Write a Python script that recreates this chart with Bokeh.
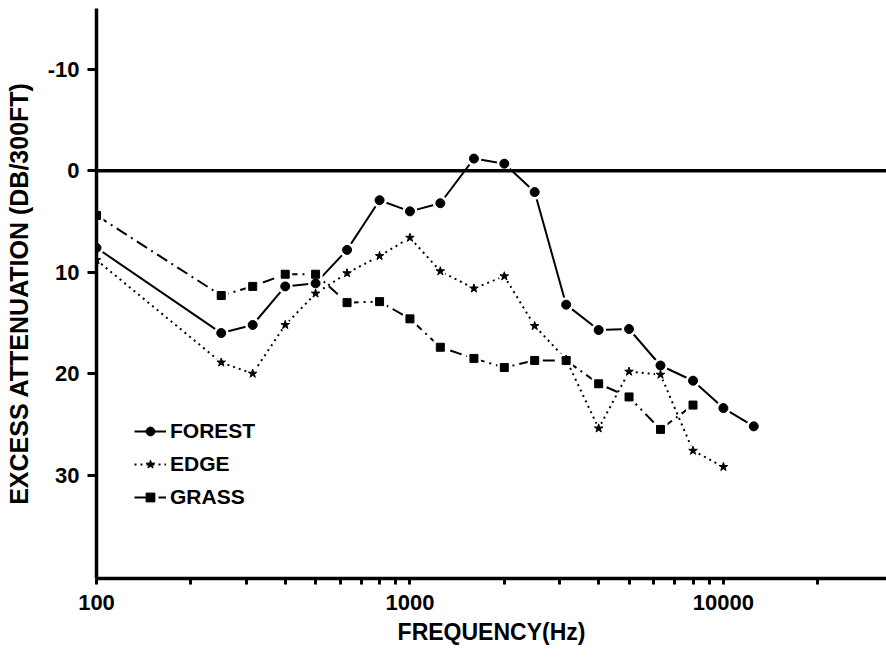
from bokeh.plotting import figure
from bokeh.models import Range1d, FixedTicker, Span, Legend, LegendItem, PrintfTickFormatter
from bokeh.embed import file_html
from bokeh.resources import INLINE

# ---- data ----
freq = [100, 250, 315, 400, 500, 630, 800, 1000, 1250, 1600, 2000,
        2500, 3150, 4000, 5000, 6300, 8000, 10000, 12500]
forest = [7.6, 16.0, 15.2, 11.4, 11.1, 7.8, 2.9, 4.0, 3.2, -1.2, -0.7,
          2.1, 13.2, 15.7, 15.6, 19.2, 20.7, 23.4, 25.2]
edge_freq = freq[:18]
edge = [8.8, 18.9, 20.0, 15.2, 12.1, 10.1, 8.4, 6.6, 9.9, 11.6, 10.4,
        15.3, 18.6, 25.4, 19.8, 20.1, 27.6, 29.2]
grass_freq = freq[:17]
grass = [4.4, 12.3, 11.4, 10.2, 10.2, 13.0, 12.9, 14.6, 17.4, 18.5, 19.4,
         18.7, 18.7, 21.0, 22.3, 25.5, 23.1]

y_ticks = [-10, 0, 10, 20, 30]
x_major = [100, 1000, 10000]
x_minor = [200, 300, 400, 500, 600, 700, 800, 900,
           2000, 3000, 4000, 5000, 6000, 7000, 8000, 9000, 20000]

FONT = "Liberation Sans"

p = figure(width=886, height=658, x_axis_type="log",
           x_range=Range1d(100, 33140), y_range=Range1d(40.2, -16),
           output_backend="svg", toolbar_location=None,
           min_border_left=96, min_border_right=0, min_border_top=8,
           min_border_bottom=80)
p.outline_line_color = None
p.grid.visible = False
p.background_fill_color = "white"
p.border_fill_color = "white"

# zero line
p.add_layout(Span(location=0, dimension="width", line_color="black", line_width=3.5))

# lines
l_forest = p.line(freq, forest, line_color="black", line_width=2)
l_edge = p.line(edge_freq, edge, line_color="black", line_width=2, line_dash="2 4")
l_grass = p.line(grass_freq, grass, line_color="black", line_width=2, line_dash="12 5 2 5")

# white halos to make gaps around markers
p.scatter(freq, forest, marker="circle", size=15, fill_color="white", line_color=None)
p.scatter(edge_freq, edge, marker="circle", size=11, fill_color="white", line_color=None)
p.scatter(grass_freq, grass, marker="square", size=14, fill_color="white", line_color=None)

# markers
m_forest = p.scatter(freq, forest, marker="circle", size=9, fill_color="black", line_color="black")
m_edge = p.scatter(edge_freq, edge, marker="star", size=9, fill_color="black", line_color="black")
m_grass = p.scatter(grass_freq, grass, marker="square", size=8, fill_color="black", line_color="black")

# axes
xa = p.xaxis[0]
xa.ticker = FixedTicker(ticks=x_major, minor_ticks=x_minor)
xa.formatter = PrintfTickFormatter(format="%d")
xa.axis_line_width = 3.5
xa.major_tick_line_width = 3
xa.minor_tick_line_width = 3
xa.major_tick_out = 6
xa.major_tick_in = 0
xa.minor_tick_out = 6
xa.minor_tick_in = 0
xa.major_label_standoff = 10
xa.major_label_text_font = FONT
xa.major_label_text_font_style = "bold"
xa.major_label_text_font_size = "22px"
xa.major_label_text_color = "black"
xa.axis_label = "FREQUENCY(Hz)"
xa.axis_label_text_font = FONT
xa.axis_label_text_font_style = "bold"
xa.axis_label_text_font_size = "23px"
xa.axis_label_text_color = "black"
xa.axis_label_standoff = 6

ya = p.yaxis[0]
ya.ticker = FixedTicker(ticks=y_ticks, minor_ticks=[])
ya.major_label_overrides = {t: str(t) for t in y_ticks}
ya.axis_line_width = 3.5
ya.major_tick_line_width = 3
ya.major_tick_out = 9
ya.major_tick_in = 0
ya.minor_tick_out = 0
ya.minor_tick_in = 0
ya.major_label_standoff = 8
ya.major_label_text_font = FONT
ya.major_label_text_font_style = "bold"
ya.major_label_text_font_size = "22px"
ya.major_label_text_color = "black"
ya.axis_label = "EXCESS ATTENUATION (DB/300FT)"
ya.axis_label_text_font = FONT
ya.axis_label_text_font_style = "bold"
ya.axis_label_text_font_size = "25px"
ya.axis_label_text_color = "black"
ya.axis_label_standoff = 12

legend = Legend(items=[
    LegendItem(label="FOREST", renderers=[l_forest, m_forest]),
    LegendItem(label="EDGE", renderers=[l_edge, m_edge]),
    LegendItem(label="GRASS", renderers=[l_grass, m_grass]),
], location=(38, 69), orientation="vertical", padding=0, margin=0,
    border_line_color=None, background_fill_alpha=0,
    glyph_width=32, glyph_height=22, label_standoff=4, spacing=9,
    label_text_font=FONT, label_text_font_style="bold",
    label_text_font_size="21px", label_text_color="black")
p.add_layout(legend)

open("out.html", "w").write(file_html(p, INLINE))
